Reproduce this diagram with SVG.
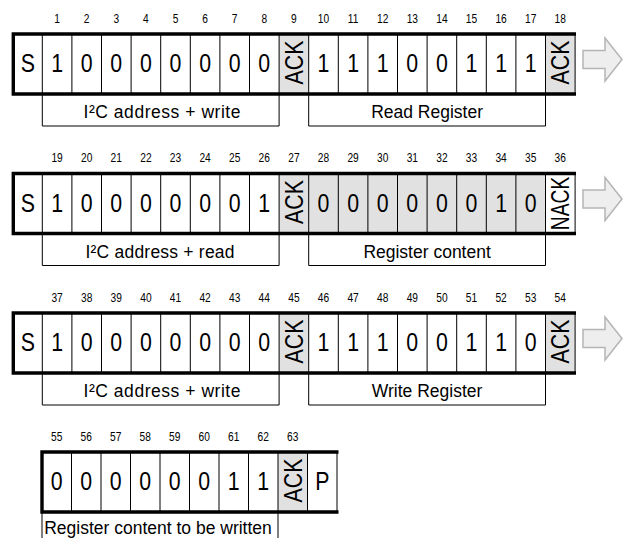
<svg xmlns="http://www.w3.org/2000/svg" width="632" height="538" viewBox="0 0 632 538">
<defs>
<style>
text{font-family:"Liberation Sans",Arial,sans-serif;fill:#000}
.d{font-size:26px;text-anchor:middle;transform-box:fill-box;transform-origin:center;transform:scaleX(0.82)}
.nk{transform:scaleX(0.74)}
.n{font-size:12px;text-anchor:middle;transform-box:fill-box;transform-origin:center;transform:scaleX(0.85)}
.l{font-size:17.5px;text-anchor:middle}
.sep{stroke:#000;stroke-width:1;fill:none}
.thick{stroke:#000;stroke-width:3.4;fill:none}
.sh{fill:#e1e1e1}
.arr{fill:#eeeeee;stroke:#b5b5b5;stroke-width:1.5;stroke-linejoin:miter}
</style>
</defs>
<rect width="632" height="538" fill="#fff"/>

<!-- Row 1 -->
<g id="row1" transform="translate(0,34)">
<rect class="sh" x="279.1" y="0" width="29.6" height="60"/>
<rect class="sh" x="545.5" y="0" width="29.6" height="60"/>
<path class="sep" d="M42.3,0V92H279.1V0M71.9,0V60M101.5,0V60M131.1,0V60M160.7,0V60M190.3,0V60M219.9,0V60M249.5,0V60M308.7,0V92H545.5V0M338.3,0V60M367.9,0V60M397.5,0V60M427.1,0V60M456.7,0V60M486.3,0V60M515.9,0V60M575.1,0V60"/>
<path class="thick" d="M11.6,0H576M11.6,60H576M13.3,0V60"/>
<g><text class="n" x="57.1" y="-11.3">1</text><text class="n" x="86.7" y="-11.3">2</text><text class="n" x="116.3" y="-11.3">3</text><text class="n" x="145.9" y="-11.3">4</text><text class="n" x="175.5" y="-11.3">5</text><text class="n" x="205.1" y="-11.3">6</text><text class="n" x="234.7" y="-11.3">7</text><text class="n" x="264.3" y="-11.3">8</text><text class="n" x="293.9" y="-11.3">9</text><text class="n" x="323.5" y="-11.3">10</text><text class="n" x="353.1" y="-11.3">11</text><text class="n" x="382.7" y="-11.3">12</text><text class="n" x="412.3" y="-11.3">13</text><text class="n" x="441.9" y="-11.3">14</text><text class="n" x="471.5" y="-11.3">15</text><text class="n" x="501.1" y="-11.3">16</text><text class="n" x="530.7" y="-11.3">17</text><text class="n" x="560.3" y="-11.3">18</text></g>
<g><text class="d" x="27.8" y="38.5">S</text><text class="d" x="57.1" y="38.5">1</text><text class="d" x="86.7" y="38.5">0</text><text class="d" x="116.3" y="38.5">0</text><text class="d" x="145.9" y="38.5">0</text><text class="d" x="175.5" y="38.5">0</text><text class="d" x="205.1" y="38.5">0</text><text class="d" x="234.7" y="38.5">0</text><text class="d" x="264.3" y="38.5">0</text><g transform="translate(303,28.5) rotate(-90)"><text class="d">ACK</text></g><text class="d" x="323.5" y="38.5">1</text><text class="d" x="353.1" y="38.5">1</text><text class="d" x="382.7" y="38.5">1</text><text class="d" x="412.3" y="38.5">0</text><text class="d" x="441.9" y="38.5">0</text><text class="d" x="471.5" y="38.5">1</text><text class="d" x="501.1" y="38.5">1</text><text class="d" x="530.7" y="38.5">1</text><g transform="translate(569.4,28.5) rotate(-90)"><text class="d">ACK</text></g></g>
<text class="l" x="162" y="84" textLength="157">I²C address + write</text>
<text class="l" x="427.1" y="84">Read Register</text>
</g>

<!-- Row 2 -->
<g id="row2" transform="translate(0,173.5)">
<rect class="sh" x="279.1" y="0" width="266.4" height="60"/>
<path class="sep" d="M42.3,0V92H279.1V0M71.9,0V60M101.5,0V60M131.1,0V60M160.7,0V60M190.3,0V60M219.9,0V60M249.5,0V60M308.7,0V92H545.5V0M338.3,0V60M367.9,0V60M397.5,0V60M427.1,0V60M456.7,0V60M486.3,0V60M515.9,0V60M575.1,0V60"/>
<path class="thick" d="M11.6,0H576M11.6,60H576M13.3,0V60"/>
<g><text class="n" x="57.1" y="-11.3">19</text><text class="n" x="86.7" y="-11.3">20</text><text class="n" x="116.3" y="-11.3">21</text><text class="n" x="145.9" y="-11.3">22</text><text class="n" x="175.5" y="-11.3">23</text><text class="n" x="205.1" y="-11.3">24</text><text class="n" x="234.7" y="-11.3">25</text><text class="n" x="264.3" y="-11.3">26</text><text class="n" x="293.9" y="-11.3">27</text><text class="n" x="323.5" y="-11.3">28</text><text class="n" x="353.1" y="-11.3">29</text><text class="n" x="382.7" y="-11.3">30</text><text class="n" x="412.3" y="-11.3">31</text><text class="n" x="441.9" y="-11.3">32</text><text class="n" x="471.5" y="-11.3">33</text><text class="n" x="501.1" y="-11.3">34</text><text class="n" x="530.7" y="-11.3">35</text><text class="n" x="560.3" y="-11.3">36</text></g>
<g><text class="d" x="27.8" y="38.5">S</text><text class="d" x="57.1" y="38.5">1</text><text class="d" x="86.7" y="38.5">0</text><text class="d" x="116.3" y="38.5">0</text><text class="d" x="145.9" y="38.5">0</text><text class="d" x="175.5" y="38.5">0</text><text class="d" x="205.1" y="38.5">0</text><text class="d" x="234.7" y="38.5">0</text><text class="d" x="264.3" y="38.5">1</text><g transform="translate(303,28.5) rotate(-90)"><text class="d">ACK</text></g><text class="d" x="323.5" y="38.5">0</text><text class="d" x="353.1" y="38.5">0</text><text class="d" x="382.7" y="38.5">0</text><text class="d" x="412.3" y="38.5">0</text><text class="d" x="441.9" y="38.5">0</text><text class="d" x="471.5" y="38.5">0</text><text class="d" x="501.1" y="38.5">1</text><text class="d" x="530.7" y="38.5">0</text><g transform="translate(569.4,30) rotate(-90)"><text class="d nk">NACK</text></g></g>
<text class="l" x="160" y="84" textLength="149">I²C address + read</text>
<text class="l" x="427.1" y="84">Register content</text>
</g>

<!-- Row 3 -->
<g id="row3" transform="translate(0,313)">
<rect class="sh" x="279.1" y="0" width="29.6" height="60"/>
<rect class="sh" x="545.5" y="0" width="29.6" height="60"/>
<path class="sep" d="M42.3,0V92H279.1V0M71.9,0V60M101.5,0V60M131.1,0V60M160.7,0V60M190.3,0V60M219.9,0V60M249.5,0V60M308.7,0V92H545.5V0M338.3,0V60M367.9,0V60M397.5,0V60M427.1,0V60M456.7,0V60M486.3,0V60M515.9,0V60M575.1,0V60"/>
<path class="thick" d="M11.6,0H576M11.6,60H576M13.3,0V60"/>
<g><text class="n" x="57.1" y="-11.3">37</text><text class="n" x="86.7" y="-11.3">38</text><text class="n" x="116.3" y="-11.3">39</text><text class="n" x="145.9" y="-11.3">40</text><text class="n" x="175.5" y="-11.3">41</text><text class="n" x="205.1" y="-11.3">42</text><text class="n" x="234.7" y="-11.3">43</text><text class="n" x="264.3" y="-11.3">44</text><text class="n" x="293.9" y="-11.3">45</text><text class="n" x="323.5" y="-11.3">46</text><text class="n" x="353.1" y="-11.3">47</text><text class="n" x="382.7" y="-11.3">48</text><text class="n" x="412.3" y="-11.3">49</text><text class="n" x="441.9" y="-11.3">50</text><text class="n" x="471.5" y="-11.3">51</text><text class="n" x="501.1" y="-11.3">52</text><text class="n" x="530.7" y="-11.3">53</text><text class="n" x="560.3" y="-11.3">54</text></g>
<g><text class="d" x="27.8" y="38.5">S</text><text class="d" x="57.1" y="38.5">1</text><text class="d" x="86.7" y="38.5">0</text><text class="d" x="116.3" y="38.5">0</text><text class="d" x="145.9" y="38.5">0</text><text class="d" x="175.5" y="38.5">0</text><text class="d" x="205.1" y="38.5">0</text><text class="d" x="234.7" y="38.5">0</text><text class="d" x="264.3" y="38.5">0</text><g transform="translate(303,28.5) rotate(-90)"><text class="d">ACK</text></g><text class="d" x="323.5" y="38.5">1</text><text class="d" x="353.1" y="38.5">1</text><text class="d" x="382.7" y="38.5">1</text><text class="d" x="412.3" y="38.5">0</text><text class="d" x="441.9" y="38.5">0</text><text class="d" x="471.5" y="38.5">1</text><text class="d" x="501.1" y="38.5">1</text><text class="d" x="530.7" y="38.5">0</text><g transform="translate(569.4,28.5) rotate(-90)"><text class="d">ACK</text></g></g>
<text class="l" x="162" y="84" textLength="157">I²C address + write</text>
<text class="l" x="427.1" y="84">Write Register</text>
</g>

<!-- Row 4 -->
<g id="row4" transform="translate(0,452)">
<rect class="sh" x="278" y="0" width="29.5" height="60"/>
<path class="sep" d="M42,60V92M278,0V92M71.5,0V60M101,0V60M130.5,0V60M160,0V60M189.5,0V60M219,0V60M248.5,0V60M307.5,0V60M337,0V60"/>
<path class="thick" d="M40.3,0H338.5M40.3,60H338.5M42,0V60"/>
<g><text class="n" x="56.75" y="-11.3">55</text><text class="n" x="86.25" y="-11.3">56</text><text class="n" x="115.75" y="-11.3">57</text><text class="n" x="145.25" y="-11.3">58</text><text class="n" x="174.75" y="-11.3">59</text><text class="n" x="204.25" y="-11.3">60</text><text class="n" x="233.75" y="-11.3">61</text><text class="n" x="263.25" y="-11.3">62</text><text class="n" x="292.75" y="-11.3">63</text></g>
<g><text class="d" x="56.75" y="38.5">0</text><text class="d" x="86.25" y="38.5">0</text><text class="d" x="115.75" y="38.5">0</text><text class="d" x="145.25" y="38.5">0</text><text class="d" x="174.75" y="38.5">0</text><text class="d" x="204.25" y="38.5">0</text><text class="d" x="233.75" y="38.5">1</text><text class="d" x="263.25" y="38.5">1</text><g transform="translate(301.8,28.5) rotate(-90)"><text class="d">ACK</text></g><text class="d" x="322.25" y="38.5">P</text></g>
<text class="l" x="158" y="82">Register content to be written</text>
</g>

<!-- Connectors: continuation arrows -->
<g id="connectors">
<path class="arr" d="M583,50.5H605V38L622,59.5L605,81V68.5H583Z"/>
<path class="arr" d="M583,190H605V177.5L622,199L605,220.5V208H583Z"/>
<path class="arr" d="M583,329.5H605V317L622,338.5L605,360V347.5H583Z"/>
</g>
</svg>
